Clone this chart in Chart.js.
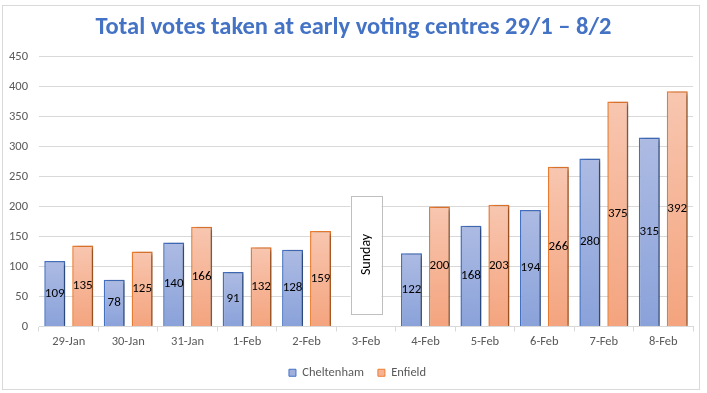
<!DOCTYPE html>
<html>
<head>
<meta charset="utf-8">
<script src="https://cdn.jsdelivr.net/npm/chart.js@4.4.1/dist/chart.umd.min.js"></script>
<style>
  html, body { margin: 0; padding: 0; background: #ffffff; }
  #wrap { position: absolute; left: 0; top: 0; width: 707px; height: 393px; }
  #frame { position: absolute; left: 2px; top: 5px; width: 698px; height: 385px; border: 1px solid #d9d9d9; box-sizing: border-box; pointer-events: none; }
</style>
</head>
<body>
<div id="wrap">
  <canvas id="c" width="707" height="393"></canvas>
  <div id="frame"></div>
</div>
<script>
const categories = ['29-Jan','30-Jan','31-Jan','1-Feb','2-Feb','3-Feb','4-Feb','5-Feb','6-Feb','7-Feb','8-Feb'];
const cheltenham = [109, 78, 140, 91, 128, null, 122, 168, 194, 280, 315];
const enfield    = [135, 125, 166, 132, 159, null, 200, 203, 266, 375, 392];
const yTicks = [0, 50, 100, 150, 200, 250, 300, 350, 400, 450];
const seriesNames = ['Cheltenham', 'Enfield'];
const sundayNote = { category: '3-Feb', text: 'Sunday', top: 218, bottom: 22 };

const FONT = 'Carlito, Calibri, Lato, sans-serif';
const GRAY = '#595959';

function barGradient(ctx, top, bottom) {
  const chart = ctx.chart;
  const area = chart.chartArea;
  if (!area) return top;
  const v = ctx.parsed ? ctx.parsed.y : null;
  if (v == null) return top;
  const ys = chart.scales.y;
  const y0 = ys.getPixelForValue(v);
  const y1 = ys.getPixelForValue(0);
  const g = chart.ctx.createLinearGradient(0, y0, 0, y1 + 0.01);
  g.addColorStop(0, top);
  g.addColorStop(1, bottom);
  return g;
}

const shadowPlugin = {
  id: 'shadow',
  beforeDatasetsDraw(chart) {
    const c = chart.ctx;
    c.save();
    c.shadowColor = 'rgba(0,0,0,0.4)';
    c.shadowBlur = 4;
    c.shadowOffsetX = 3;
    c.shadowOffsetY = 1;
  },
  afterDatasetsDraw(chart) {
    chart.ctx.restore();
  }
};

const blockShift = {
  id: 'blockShift',
  afterLayout(chart) {
    if (chart.legend) { chart.legend.left += 11; chart.legend.right += 11; }
    if (chart.titleBlock) { chart.titleBlock.left += 7; chart.titleBlock.right += 7; }
  }
};

const labelPlugin = {
  id: 'valueLabels',
  afterDatasetsDraw(chart) {
    const c = chart.ctx;
    c.save();
    c.font = '13px ' + FONT;
    c.fillStyle = '#000000';
    c.textAlign = 'center';
    c.textBaseline = 'middle';
    chart.data.datasets.forEach((ds, di) => {
      const meta = chart.getDatasetMeta(di);
      meta.data.forEach((bar, i) => {
        const v = ds.data[i];
        if (v == null) return;
        c.fillText(String(v), bar.x, (bar.y + bar.base) / 2);
      });
    });
    c.restore();
  }
};

const sundayPlugin = {
  id: 'sunday',
  afterDatasetsDraw(chart) {
    const xs = chart.scales.x, ys = chart.scales.y;
    const idx = categories.indexOf(sundayNote.category);
    const cx = xs.getPixelForValue(idx);
    const w = 31;
    const yTop = ys.getPixelForValue(sundayNote.top);
    const yBot = ys.getPixelForValue(sundayNote.bottom);
    const c = chart.ctx;
    c.save();
    c.fillStyle = '#ffffff';
    c.strokeStyle = '#bfbfbf';
    c.lineWidth = 1;
    c.fillRect(cx - w / 2, yTop, w, yBot - yTop);
    c.strokeRect(Math.round(cx - w / 2) + 0.5, Math.round(yTop) + 0.5, w, Math.round(yBot - yTop));
    c.translate(cx, (yTop + yBot) / 2);
    c.rotate(-Math.PI / 2);
    c.font = '14px ' + FONT;
    c.fillStyle = '#000000';
    c.textAlign = 'center';
    c.textBaseline = 'middle';
    c.fillText(sundayNote.text, 0, 0);
    c.restore();
  }
};

new Chart(document.getElementById('c'), {
  type: 'bar',
  data: {
    labels: categories,
    datasets: [
      {
        label: seriesNames[0],
        data: cheltenham,
        backgroundColor: (ctx) => barGradient(ctx, '#adbbe3', '#8aa2da'),
        borderColor: '#4472c4',
        borderWidth: 1.5,
        categoryPercentage: 0.94,
        barPercentage: 0.75
      },
      {
        label: seriesNames[1],
        data: enfield,
        backgroundColor: (ctx) => barGradient(ctx, '#f8c6b0', '#f4a47e'),
        borderColor: '#ed7d31',
        borderWidth: 1.5,
        categoryPercentage: 0.94,
        barPercentage: 0.75
      }
    ]
  },
  options: {
    responsive: false,
    animation: false,
    devicePixelRatio: 1,
    layout: { padding: { left: 0, right: 14, top: 0, bottom: 4 } },
    plugins: {
      title: {
        display: true,
        text: 'Total votes taken at early voting centres 29/1 – 8/2',
        color: '#4472c4',
        font: { family: FONT, size: 24.5, weight: 'bold' },
        padding: { top: 13, bottom: 14 }
      },
      legend: {
        position: 'bottom',
        labels: {
          font: { family: FONT, size: 12.5 },
          color: GRAY,
          boxWidth: 7,
          boxHeight: 7,
          padding: 14,
          generateLabels: () => [
            { text: seriesNames[0], fillStyle: '#9fb0df', strokeStyle: '#4472c4', lineWidth: 1, fontColor: GRAY, datasetIndex: 0 },
            { text: seriesNames[1], fillStyle: '#f6b394', strokeStyle: '#ed7d31', lineWidth: 1, fontColor: GRAY, datasetIndex: 1 }
          ]
        }
      },
      tooltip: { enabled: false }
    },
    scales: {
      x: {
        offset: true,
        grid: { display: true, drawOnChartArea: false, offset: true, color: '#d9d9d9', tickLength: 5 },
        border: { display: true, color: '#d9d9d9' },
        ticks: { color: GRAY, font: { family: FONT, size: 12.5 }, padding: 3, maxRotation: 0 }
      },
      y: {
        min: 0,
        max: 450,
        afterBuildTicks: (s) => { s.ticks = yTicks.map(v => ({ value: v })); },
        afterFit: (s) => { s.width = 39; },
        grid: { color: '#d9d9d9', drawTicks: false },
        border: { display: false },
        ticks: { color: GRAY, font: { family: FONT, size: 12.5 }, padding: 11 }
      }
    }
  },
  plugins: [shadowPlugin, blockShift, labelPlugin, sundayPlugin]
});
</script>
</body>
</html>
